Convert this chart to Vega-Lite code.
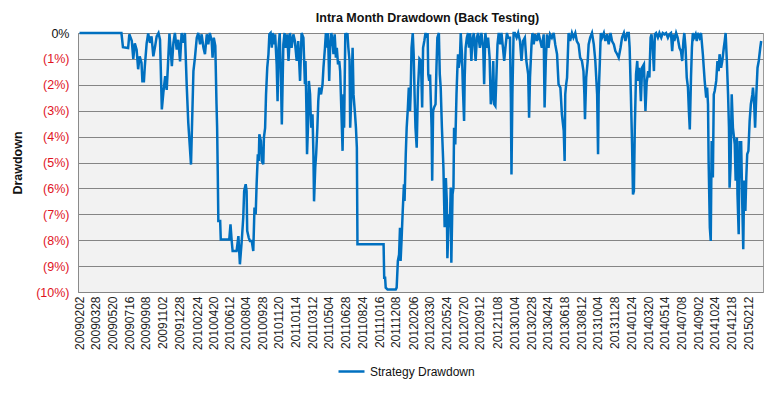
{
"$schema":"https://vega.github.io/schema/vega-lite/v6.json",
"width":685,"height":259,
"autosize":{"type":"none"},
"padding":{"left":78,"top":33,"right":17,"bottom":104},
"background":"white",
"config":{"view":{"fill":"#f2f2f2","stroke":"#9a9a9a","strokeWidth":1},"font":"Liberation Sans"},
"title":{"text":"Intra Month Drawdown (Back Testing)","fontSize":12.5,"fontWeight":"bold","font":"Liberation Sans","color":"#111","anchor":"middle","dx":7,"offset":3},
"data":{"values":[
{"d":"2009-02-02","v":0},{"d":"2009-06-20","v":0},{"d":"2009-06-25","v":-0.55},{"d":"2009-07-12","v":-0.58},{"d":"2009-07-16","v":-0.05},{"d":"2009-07-24","v":-0.3},{"d":"2009-07-29","v":-1.0},{"d":"2009-08-03","v":-0.4},{"d":"2009-08-09","v":-0.65},{"d":"2009-08-14","v":-1.4},{"d":"2009-08-19","v":-0.9},{"d":"2009-08-25","v":-1.15},{"d":"2009-08-28","v":-1.86},{"d":"2009-09-02","v":-1.86},{"d":"2009-09-05","v":-1.28},{"d":"2009-09-11","v":-0.4},{"d":"2009-09-16","v":-0.02},{"d":"2009-09-22","v":-0.38},{"d":"2009-09-27","v":-0.13},{"d":"2009-10-03","v":-0.9},{"d":"2009-10-09","v":-0.5},{"d":"2009-10-14","v":-0.13},{"d":"2009-10-20","v":0},{"d":"2009-10-25","v":-0.26},{"d":"2009-10-31","v":-2.95},{"d":"2009-11-05","v":-2.3},{"d":"2009-11-11","v":-1.67},{"d":"2009-11-16","v":-2.2},{"d":"2009-11-20","v":-1.28},{"d":"2009-11-25","v":-0.02},{"d":"2009-11-29","v":-0.64},{"d":"2009-12-03","v":-1.28},{"d":"2009-12-08","v":-0.38},{"d":"2009-12-13","v":0},{"d":"2009-12-19","v":-0.64},{"d":"2009-12-24","v":-0.26},{"d":"2009-12-30","v":-1.1},
{"d":"2010-01-04","v":0},{"d":"2010-01-10","v":-0.38},{"d":"2010-01-15","v":0},{"d":"2010-01-21","v":-2.05},{"d":"2010-01-26","v":-3.46},{"d":"2010-01-29","v":-4.0},{"d":"2010-02-04","v":-5.08},{"d":"2010-02-12","v":-1.47},{"d":"2010-02-17","v":-0.95},{"d":"2010-02-23","v":-0.18},{"d":"2010-02-28","v":0},{"d":"2010-03-06","v":-0.44},{"d":"2010-03-11","v":-0.05},{"d":"2010-03-17","v":-0.57},{"d":"2010-03-22","v":-0.82},{"d":"2010-03-28","v":-0.05},{"d":"2010-04-02","v":-0.44},{"d":"2010-04-07","v":0},{"d":"2010-04-13","v":-0.31},{"d":"2010-04-16","v":-0.95},{"d":"2010-04-20","v":-0.18},{"d":"2010-04-25","v":-0.5},{"d":"2010-04-29","v":-2.75},{"d":"2010-05-01","v":-3.66},{"d":"2010-05-03","v":-5.33},{"d":"2010-05-05","v":-7.26},{"d":"2010-05-11","v":-7.26},{"d":"2010-05-13","v":-7.97},{"d":"2010-06-10","v":-7.97},{"d":"2010-06-14","v":-7.39},{"d":"2010-06-18","v":-8.03},{"d":"2010-06-21","v":-8.42},{"d":"2010-07-04","v":-8.42},{"d":"2010-07-10","v":-7.84},{"d":"2010-07-15","v":-8.93},{"d":"2010-07-21","v":-8.03},{"d":"2010-07-26","v":-7.13},{"d":"2010-07-29","v":-6.1},{"d":"2010-08-03","v":-5.84},{"d":"2010-08-06","v":-6.1},{"d":"2010-08-08","v":-7.64},{"d":"2010-08-13","v":-7.9},{"d":"2010-08-17","v":-8.03},{"d":"2010-08-23","v":-8.03},{"d":"2010-08-28","v":-8.42},{"d":"2010-09-01","v":-6.74},{"d":"2010-09-05","v":-7.0},{"d":"2010-09-08","v":-5.84},{"d":"2010-09-12","v":-4.68},{"d":"2010-09-15","v":-4.94},{"d":"2010-09-17","v":-3.91},{"d":"2010-09-22","v":-4.17},{"d":"2010-09-25","v":-4.94},{"d":"2010-09-30","v":-5.07},{"d":"2010-10-02","v":-4.04},{"d":"2010-10-06","v":-3.66},{"d":"2010-10-09","v":-2.37},{"d":"2010-10-13","v":-1.34},{"d":"2010-10-17","v":-0.82},{"d":"2010-10-20","v":-0.05},{"d":"2010-10-24","v":0},{"d":"2010-10-28","v":-0.57},{"d":"2010-10-31","v":0},{"d":"2010-11-04","v":-0.44},{"d":"2010-11-08","v":-0.05},{"d":"2010-11-13","v":-1.21},{"d":"2010-11-16","v":-2.63},{"d":"2010-11-19","v":-0.57},{"d":"2010-11-23","v":0},{"d":"2010-11-27","v":-1.72},{"d":"2010-11-30","v":-3.53},{"d":"2010-12-05","v":-0.44},{"d":"2010-12-09","v":0},{"d":"2010-12-13","v":-0.57},{"d":"2010-12-18","v":-0.05},{"d":"2010-12-22","v":-1.08},{"d":"2010-12-27","v":0},
{"d":"2011-01-01","v":-0.57},{"d":"2011-01-07","v":-0.05},{"d":"2011-01-12","v":-0.31},{"d":"2011-01-18","v":-1.08},{"d":"2011-01-23","v":-0.31},{"d":"2011-01-29","v":-1.85},{"d":"2011-02-03","v":0},{"d":"2011-02-09","v":-0.18},{"d":"2011-02-14","v":-1.98},{"d":"2011-02-16","v":-1.08},{"d":"2011-02-19","v":-3.0},{"d":"2011-02-21","v":-4.68},{"d":"2011-02-24","v":-3.66},{"d":"2011-02-27","v":-1.85},{"d":"2011-03-03","v":-2.37},{"d":"2011-03-05","v":-3.14},{"d":"2011-03-07","v":-3.66},{"d":"2011-03-11","v":-3.14},{"d":"2011-03-14","v":-4.68},{"d":"2011-03-16","v":-6.5},{"d":"2011-03-20","v":-5.2},{"d":"2011-03-23","v":-4.68},{"d":"2011-03-27","v":-3.66},{"d":"2011-03-30","v":-2.63},{"d":"2011-04-02","v":-2.11},{"d":"2011-04-08","v":-2.37},{"d":"2011-04-13","v":-1.98},{"d":"2011-04-16","v":-1.34},{"d":"2011-04-21","v":-0.57},{"d":"2011-04-24","v":0},{"d":"2011-04-27","v":-0.57},{"d":"2011-05-01","v":0},{"d":"2011-05-05","v":-1.85},{"d":"2011-05-08","v":-0.57},{"d":"2011-05-12","v":0},{"d":"2011-05-16","v":-0.31},{"d":"2011-05-19","v":-0.82},{"d":"2011-05-23","v":-0.05},{"d":"2011-05-27","v":-0.95},{"d":"2011-05-30","v":-0.57},{"d":"2011-06-03","v":-1.21},{"d":"2011-06-07","v":-1.08},{"d":"2011-06-10","v":-1.47},{"d":"2011-06-14","v":-3.0},{"d":"2011-06-18","v":-4.55},{"d":"2011-06-21","v":-2.37},{"d":"2011-06-23","v":-3.66},{"d":"2011-06-27","v":0},{"d":"2011-06-30","v":-0.18},{"d":"2011-07-04","v":0},{"d":"2011-07-07","v":-0.57},{"d":"2011-07-11","v":-1.08},{"d":"2011-07-13","v":-3.66},{"d":"2011-07-17","v":-2.37},{"d":"2011-07-21","v":-0.57},{"d":"2011-07-24","v":-2.37},{"d":"2011-07-29","v":-3.14},{"d":"2011-08-01","v":-3.66},{"d":"2011-08-04","v":-4.43},{"d":"2011-08-06","v":-8.16},{"d":"2011-10-31","v":-8.16},{"d":"2011-11-02","v":-9.45},{"d":"2011-11-05","v":-9.45},{"d":"2011-11-07","v":-9.83},{"d":"2011-11-13","v":-9.9},{"d":"2011-12-10","v":-9.9},{"d":"2011-12-13","v":-9.83},{"d":"2011-12-17","v":-8.8},{"d":"2011-12-21","v":-8.55},{"d":"2011-12-24","v":-7.52},{"d":"2011-12-26","v":-8.8},{"d":"2011-12-29","v":-8.03},
{"d":"2012-01-02","v":-6.87},{"d":"2012-01-06","v":-5.84},{"d":"2012-01-08","v":-6.49},{"d":"2012-01-12","v":-4.68},{"d":"2012-01-15","v":-3.66},{"d":"2012-01-19","v":-2.88},{"d":"2012-01-22","v":-2.11},{"d":"2012-01-26","v":-3.01},{"d":"2012-01-28","v":-2.37},{"d":"2012-01-31","v":-0.57},{"d":"2012-02-04","v":0},{"d":"2012-02-07","v":-0.82},{"d":"2012-02-10","v":-2.37},{"d":"2012-02-13","v":-3.66},{"d":"2012-02-17","v":-4.43},{"d":"2012-02-21","v":-2.2},{"d":"2012-02-26","v":-1.0},{"d":"2012-03-02","v":-1.08},{"d":"2012-03-06","v":-2.88},{"d":"2012-03-09","v":-0.57},{"d":"2012-03-13","v":-0.31},{"d":"2012-03-17","v":0},{"d":"2012-03-20","v":-0.18},{"d":"2012-03-24","v":0},{"d":"2012-03-26","v":-1.6},{"d":"2012-03-29","v":-1.85},{"d":"2012-04-01","v":-1.6},{"d":"2012-04-06","v":-3.66},{"d":"2012-04-08","v":-5.7},{"d":"2012-04-11","v":-3.01},{"d":"2012-04-14","v":-2.88},{"d":"2012-04-19","v":-2.75},{"d":"2012-04-22","v":-1.34},{"d":"2012-04-25","v":-0.18},{"d":"2012-04-30","v":0},{"d":"2012-05-03","v":-1.6},{"d":"2012-05-06","v":-2.11},{"d":"2012-05-10","v":-3.66},{"d":"2012-05-15","v":-5.2},{"d":"2012-05-19","v":-7.5},{"d":"2012-05-23","v":-5.6},{"d":"2012-05-26","v":-6.49},{"d":"2012-05-28","v":-8.7},{"d":"2012-06-02","v":-7.0},{"d":"2012-06-05","v":-7.5},{"d":"2012-06-08","v":-5.97},{"d":"2012-06-10","v":-8.87},{"d":"2012-06-14","v":-6.23},{"d":"2012-06-17","v":-5.97},{"d":"2012-06-19","v":-3.66},{"d":"2012-06-23","v":-4.3},{"d":"2012-06-27","v":-2.37},{"d":"2012-06-30","v":-1.34},{"d":"2012-07-02","v":-0.82},{"d":"2012-07-04","v":-1.34},{"d":"2012-07-08","v":-1.08},{"d":"2012-07-11","v":0},{"d":"2012-07-15","v":-0.82},{"d":"2012-07-18","v":-2.11},{"d":"2012-07-22","v":-3.4},{"d":"2012-07-24","v":-1.72},{"d":"2012-07-27","v":-0.57},{"d":"2012-07-31","v":-0.18},{"d":"2012-08-04","v":0},{"d":"2012-08-07","v":-0.57},{"d":"2012-08-11","v":0},{"d":"2012-08-15","v":-1.08},{"d":"2012-08-18","v":-0.31},{"d":"2012-08-23","v":0},{"d":"2012-08-26","v":-0.57},{"d":"2012-08-29","v":-1.08},{"d":"2012-09-02","v":-0.18},{"d":"2012-09-06","v":0},{"d":"2012-09-12","v":-0.57},{"d":"2012-09-17","v":0},{"d":"2012-09-23","v":-0.57},{"d":"2012-09-26","v":-1.98},{"d":"2012-09-30","v":0},{"d":"2012-10-05","v":-0.57},{"d":"2012-10-09","v":-0.18},{"d":"2012-10-14","v":-0.95},{"d":"2012-10-18","v":-2.75},{"d":"2012-10-23","v":-2.37},{"d":"2012-10-26","v":-1.08},{"d":"2012-10-29","v":-2.75},{"d":"2012-11-02","v":-2.82},{"d":"2012-11-06","v":-1.47},{"d":"2012-11-09","v":-0.44},{"d":"2012-11-13","v":0},{"d":"2012-11-18","v":-0.44},{"d":"2012-11-22","v":0},{"d":"2012-11-27","v":-0.57},{"d":"2012-12-01","v":-1.08},{"d":"2012-12-05","v":-0.57},{"d":"2012-12-10","v":0},{"d":"2012-12-14","v":-0.18},{"d":"2012-12-20","v":-0.18},{"d":"2012-12-23","v":-2.5},{"d":"2012-12-25","v":-5.46},{"d":"2012-12-28","v":-2.37},
{"d":"2013-01-01","v":0},{"d":"2013-01-05","v":0},{"d":"2013-01-11","v":-0.18},{"d":"2013-01-16","v":0},{"d":"2013-01-22","v":-0.31},{"d":"2013-01-27","v":-1.08},{"d":"2013-02-01","v":-0.31},{"d":"2013-02-07","v":-0.18},{"d":"2013-02-12","v":-1.08},{"d":"2013-02-18","v":-1.6},{"d":"2013-02-21","v":-3.27},{"d":"2013-02-24","v":-1.72},{"d":"2013-03-01","v":-0.44},{"d":"2013-03-04","v":0},{"d":"2013-03-08","v":-0.44},{"d":"2013-03-13","v":-0.05},{"d":"2013-03-19","v":-0.31},{"d":"2013-03-24","v":0},{"d":"2013-03-30","v":-0.31},{"d":"2013-04-04","v":-0.57},{"d":"2013-04-10","v":-0.05},{"d":"2013-04-13","v":-2.88},{"d":"2013-04-17","v":-1.08},{"d":"2013-04-21","v":-0.05},{"d":"2013-04-26","v":-0.57},{"d":"2013-05-01","v":-0.05},{"d":"2013-05-07","v":-0.18},{"d":"2013-05-13","v":0},{"d":"2013-05-18","v":-0.44},{"d":"2013-05-24","v":-0.82},{"d":"2013-05-29","v":-1.98},{"d":"2013-06-04","v":-2.11},{"d":"2013-06-09","v":-3.14},{"d":"2013-06-15","v":-3.78},{"d":"2013-06-18","v":-4.94},{"d":"2013-06-20","v":-2.37},{"d":"2013-06-23","v":-1.98},{"d":"2013-06-26","v":-1.72},{"d":"2013-07-01","v":0},{"d":"2013-07-06","v":-0.31},{"d":"2013-07-12","v":0},{"d":"2013-07-17","v":-0.18},{"d":"2013-07-23","v":0},{"d":"2013-07-28","v":-0.31},{"d":"2013-08-03","v":-0.44},{"d":"2013-08-08","v":-0.95},{"d":"2013-08-14","v":-1.08},{"d":"2013-08-19","v":-1.47},{"d":"2013-08-22","v":-2.37},{"d":"2013-08-24","v":-3.33},{"d":"2013-08-28","v":-1.72},{"d":"2013-09-02","v":-1.08},{"d":"2013-09-05","v":-0.44},{"d":"2013-09-10","v":-0.18},{"d":"2013-09-16","v":0},{"d":"2013-09-22","v":-0.44},{"d":"2013-09-27","v":-1.08},{"d":"2013-10-03","v":-2.37},{"d":"2013-10-06","v":-4.68},{"d":"2013-10-08","v":-2.37},{"d":"2013-10-12","v":-1.08},{"d":"2013-10-15","v":0},{"d":"2013-10-19","v":-0.18},{"d":"2013-10-25","v":0},{"d":"2013-10-30","v":-0.31},{"d":"2013-11-05","v":-0.05},{"d":"2013-11-10","v":-0.44},{"d":"2013-11-16","v":0},{"d":"2013-11-21","v":-0.31},{"d":"2013-11-27","v":-0.44},{"d":"2013-12-02","v":-0.7},{"d":"2013-12-08","v":-0.82},{"d":"2013-12-13","v":-0.95},{"d":"2013-12-19","v":-0.57},{"d":"2013-12-24","v":-0.18},{"d":"2013-12-30","v":0},
{"d":"2014-01-04","v":-0.31},{"d":"2014-01-10","v":0},{"d":"2014-01-15","v":0},{"d":"2014-01-18","v":-0.57},{"d":"2014-01-22","v":-2.37},{"d":"2014-01-26","v":-4.3},{"d":"2014-01-29","v":-6.23},{"d":"2014-02-01","v":-6.1},{"d":"2014-02-04","v":-3.66},{"d":"2014-02-08","v":-1.6},{"d":"2014-02-12","v":-1.08},{"d":"2014-02-15","v":-1.85},{"d":"2014-02-19","v":-1.34},{"d":"2014-02-24","v":-2.63},{"d":"2014-02-28","v":-1.34},{"d":"2014-03-06","v":-1.21},{"d":"2014-03-11","v":-3.01},{"d":"2014-03-15","v":-1.9},{"d":"2014-03-20","v":-1.47},{"d":"2014-03-24","v":-1.72},{"d":"2014-03-28","v":-0.18},{"d":"2014-03-31","v":-0.05},{"d":"2014-04-04","v":-0.57},{"d":"2014-04-08","v":-1.47},{"d":"2014-04-11","v":-0.05},{"d":"2014-04-15","v":0},{"d":"2014-04-21","v":-0.18},{"d":"2014-04-26","v":0},{"d":"2014-05-02","v":-0.18},{"d":"2014-05-07","v":0},{"d":"2014-05-13","v":-0.05},{"d":"2014-05-18","v":0},{"d":"2014-05-24","v":-0.18},{"d":"2014-05-29","v":-0.05},{"d":"2014-06-03","v":0},{"d":"2014-06-07","v":-0.7},{"d":"2014-06-11","v":-0.05},{"d":"2014-06-14","v":-0.31},{"d":"2014-06-20","v":0},{"d":"2014-06-25","v":-0.18},{"d":"2014-07-01","v":-0.57},{"d":"2014-07-06","v":-0.7},{"d":"2014-07-10","v":-1.08},{"d":"2014-07-14","v":-0.31},{"d":"2014-07-17","v":0},{"d":"2014-07-21","v":-0.57},{"d":"2014-07-25","v":-1.72},{"d":"2014-07-29","v":-2.11},{"d":"2014-08-01","v":-3.01},{"d":"2014-08-04","v":-3.72},{"d":"2014-08-08","v":-1.72},{"d":"2014-08-11","v":-0.57},{"d":"2014-08-14","v":0},{"d":"2014-08-18","v":-0.18},{"d":"2014-08-23","v":-0.05},{"d":"2014-08-27","v":-0.31},{"d":"2014-08-30","v":0},{"d":"2014-09-05","v":-0.18},{"d":"2014-09-10","v":0},{"d":"2014-09-16","v":-0.82},{"d":"2014-09-19","v":-1.34},{"d":"2014-09-22","v":-1.85},{"d":"2014-09-27","v":-2.5},{"d":"2014-09-30","v":-2.11},{"d":"2014-10-03","v":-2.75},{"d":"2014-10-05","v":-4.94},{"d":"2014-10-09","v":-7.52},{"d":"2014-10-12","v":-8.03},{"d":"2014-10-15","v":-4.17},{"d":"2014-10-19","v":-5.58},{"d":"2014-10-22","v":-2.37},{"d":"2014-10-25","v":-2.24},{"d":"2014-10-30","v":-1.85},{"d":"2014-11-03","v":-1.08},{"d":"2014-11-07","v":-1.47},{"d":"2014-11-10","v":-0.82},{"d":"2014-11-15","v":-1.34},{"d":"2014-11-19","v":-1.08},{"d":"2014-11-24","v":-0.57},{"d":"2014-11-27","v":-0.31},{"d":"2014-11-30","v":0},{"d":"2014-12-04","v":-1.08},{"d":"2014-12-08","v":-2.37},{"d":"2014-12-11","v":-3.66},{"d":"2014-12-13","v":-5.97},{"d":"2014-12-16","v":-5.2},{"d":"2014-12-20","v":-2.37},{"d":"2014-12-24","v":-3.66},{"d":"2014-12-30","v":-4.3},
{"d":"2015-01-02","v":-5.7},{"d":"2015-01-06","v":-4.04},{"d":"2015-01-08","v":-6.23},{"d":"2015-01-12","v":-7.77},{"d":"2015-01-15","v":-4.17},{"d":"2015-01-18","v":-5.58},{"d":"2015-01-20","v":-4.17},{"d":"2015-01-24","v":-6.74},{"d":"2015-01-27","v":-8.35},{"d":"2015-01-30","v":-5.7},{"d":"2015-02-03","v":-6.87},{"d":"2015-02-06","v":-5.58},{"d":"2015-02-09","v":-4.68},{"d":"2015-02-13","v":-4.55},{"d":"2015-02-17","v":-3.4},{"d":"2015-02-21","v":-2.75},{"d":"2015-02-26","v":-2.37},{"d":"2015-02-28","v":-2.11},{"d":"2015-03-04","v":-2.75},{"d":"2015-03-07","v":-3.66},{"d":"2015-03-11","v":-2.37},{"d":"2015-03-15","v":-1.34},{"d":"2015-03-19","v":-1.08},{"d":"2015-03-24","v":-0.57},{"d":"2015-03-27","v":-0.31}
]},
"mark":{"type":"line","strokeWidth":2.5,"interpolate":"linear"},
"encoding":{
"x":{"field":"d","type":"temporal","scale":{"type":"utc","domain":[{"year":2009,"month":1,"date":28,"utc":true},{"year":2015,"month":4,"date":2,"utc":true}]},
 "axis":{"title":null,"labelExpr":"utcFormat(datum.value, '%Y%m%d')","labelAngle":270,"labelFontSize":12,"labelFont":"Liberation Sans","labelColor":"#222","labelPadding":4,"labelOverlap":false,"labelBound":false,"labelFlush":false,"ticks":false,"domain":false,"grid":false,
 "values":[
 {"year":2009,"month":2,"date":2,"utc":true},{"year":2009,"month":3,"date":28,"utc":true},{"year":2009,"month":5,"date":20,"utc":true},{"year":2009,"month":7,"date":16,"utc":true},{"year":2009,"month":9,"date":8,"utc":true},{"year":2009,"month":11,"date":2,"utc":true},{"year":2009,"month":12,"date":28,"utc":true},
 {"year":2010,"month":2,"date":24,"utc":true},{"year":2010,"month":4,"date":20,"utc":true},{"year":2010,"month":6,"date":12,"utc":true},{"year":2010,"month":8,"date":4,"utc":true},{"year":2010,"month":9,"date":28,"utc":true},{"year":2010,"month":11,"date":20,"utc":true},
 {"year":2011,"month":1,"date":14,"utc":true},{"year":2011,"month":3,"date":12,"utc":true},{"year":2011,"month":5,"date":4,"utc":true},{"year":2011,"month":6,"date":28,"utc":true},{"year":2011,"month":8,"date":24,"utc":true},{"year":2011,"month":10,"date":16,"utc":true},{"year":2011,"month":12,"date":8,"utc":true},
 {"year":2012,"month":2,"date":6,"utc":true},{"year":2012,"month":3,"date":30,"utc":true},{"year":2012,"month":5,"date":24,"utc":true},{"year":2012,"month":7,"date":20,"utc":true},{"year":2012,"month":9,"date":12,"utc":true},{"year":2012,"month":11,"date":8,"utc":true},
 {"year":2013,"month":1,"date":4,"utc":true},{"year":2013,"month":2,"date":28,"utc":true},{"year":2013,"month":4,"date":24,"utc":true},{"year":2013,"month":6,"date":18,"utc":true},{"year":2013,"month":8,"date":12,"utc":true},{"year":2013,"month":10,"date":4,"utc":true},{"year":2013,"month":11,"date":28,"utc":true},
 {"year":2014,"month":1,"date":24,"utc":true},{"year":2014,"month":3,"date":20,"utc":true},{"year":2014,"month":5,"date":14,"utc":true},{"year":2014,"month":7,"date":8,"utc":true},{"year":2014,"month":9,"date":2,"utc":true},{"year":2014,"month":10,"date":24,"utc":true},{"year":2014,"month":12,"date":18,"utc":true},
 {"year":2015,"month":2,"date":12,"utc":true}]}},
"y":{"field":"v","type":"quantitative","scale":{"domain":[-10,0],"nice":false,"zero":false},
 "axis":{"title":"Drawdown","titleFontSize":12.5,"titleFontWeight":"bold","titleFont":"Liberation Sans","titleColor":"#111","titlePadding":11,
 "values":[0,-1,-2,-3,-4,-5,-6,-7,-8,-9,-10],"labelExpr":"datum.value == 0 ? '0%' : '(' + abs(datum.value) + '%)'",
 "labelFontSize":12.5,"labelFont":"Liberation Sans","labelPadding":9,"labelColor":{"condition":{"test":"datum.value < 0","value":"#e0141e"},"value":"#111"},
 "ticks":false,"domain":true,"domainColor":"#8a8a8a","grid":true,"gridColor":"#858585","gridWidth":1}},
"color":{"datum":"Strategy Drawdown","type":"nominal","scale":{"range":["#0070c0"]},
 "legend":{"title":null,"orient":"none","legendX":259,"legendY":324,"symbolType":"stroke","symbolSize":676,"symbolStrokeWidth":2.5,"labelFontSize":12,"labelFont":"Liberation Sans","labelColor":"#111","symbolOffset":0,"padding":0}}
}
}
